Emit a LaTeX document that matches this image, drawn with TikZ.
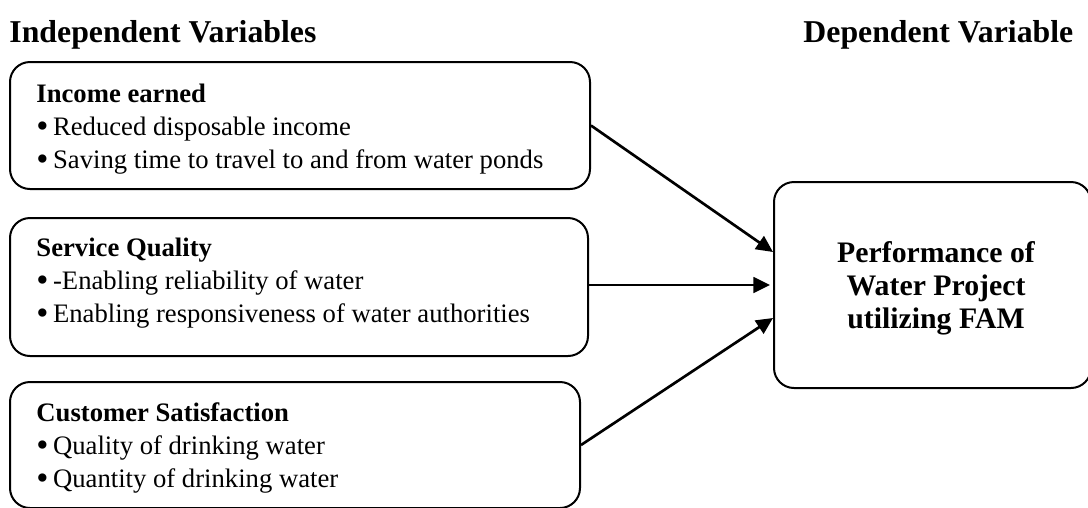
\documentclass[tikz,border=0pt]{standalone}
\usepackage{fontspec}
\setmainfont{Liberation Serif}
\usetikzlibrary{arrows.meta,calc}

\tikzset{
  varbox/.style={draw, line width=0.9pt, rounded corners=9pt, anchor=north west, inner sep=0pt},
  vartext/.style={anchor=base west, align=left, inner sep=0pt, font=\fontsize{12}{14.85}\selectfont},
  head/.style={anchor=base west, inner sep=0pt, font=\fontsize{14.3}{16}\selectfont\bfseries},
  link/.style={line width=1.2pt, -{Triangle[length=7.5pt,width=7pt]}}
}
\newcommand{\itembul}{\raisebox{-0.11em}{\scalebox{1.3}{\textbullet}}\kern0.17em}

\begin{document}
\begin{tikzpicture}[x=0.45pt,y=-0.45pt]
\pgfmathsetmacro{\u}{0.45}
\useasboundingbox (0,0) rectangle (1088,507);

    \node[head] (ivtitle) at (9,42) {Independent Variables};
    \node[head] (dvtitle) at (803,42) {Dependent Variable};

    % name/top/last base/width/height/heading/first/second
    \foreach \nm/\y/\b/\w/\h/\ttl/\one/\two in {
      inc/61/168/580/127/Income earned/Reduced disposable income/Saving time to travel to and from water ponds,
      svc/217/322/578/138/Service Quality/-Enabling reliability of water/Enabling responsiveness of water authorities,
      cst/381/487/570/126/Customer Satisfaction/Quality of drinking water/Quantity of drinking water} {
      \node[varbox, minimum width={\w*\u*1pt}, minimum height={\h*\u*1pt}] (\nm) at (9,\y) {};
      \node[vartext] (\nm-txt) at (36,\b) {\textbf{\ttl}\\\itembul\one\\\itembul\two};
    }

    \node[varbox, minimum width={317*\u*1pt}, minimum height={206*\u*1pt}] (fam) at (773,181) {};
    \node[align=center, inner sep=0pt, font=\fontsize{13.4}{14.85}\selectfont\bfseries] (fam-txt) at (936,288)
      {Performance of\\Water Project\\utilizing FAM};

    \draw[link] (inc.east) -- ([yshift=14.85pt]fam.west);
    \draw[link, shorten >=1.3pt] (svc.east |- fam.west) -- (fam.west);
    \draw[link] (cst.east) -- ([yshift=-14.85pt]fam.west);
\end{tikzpicture}
\end{document}
